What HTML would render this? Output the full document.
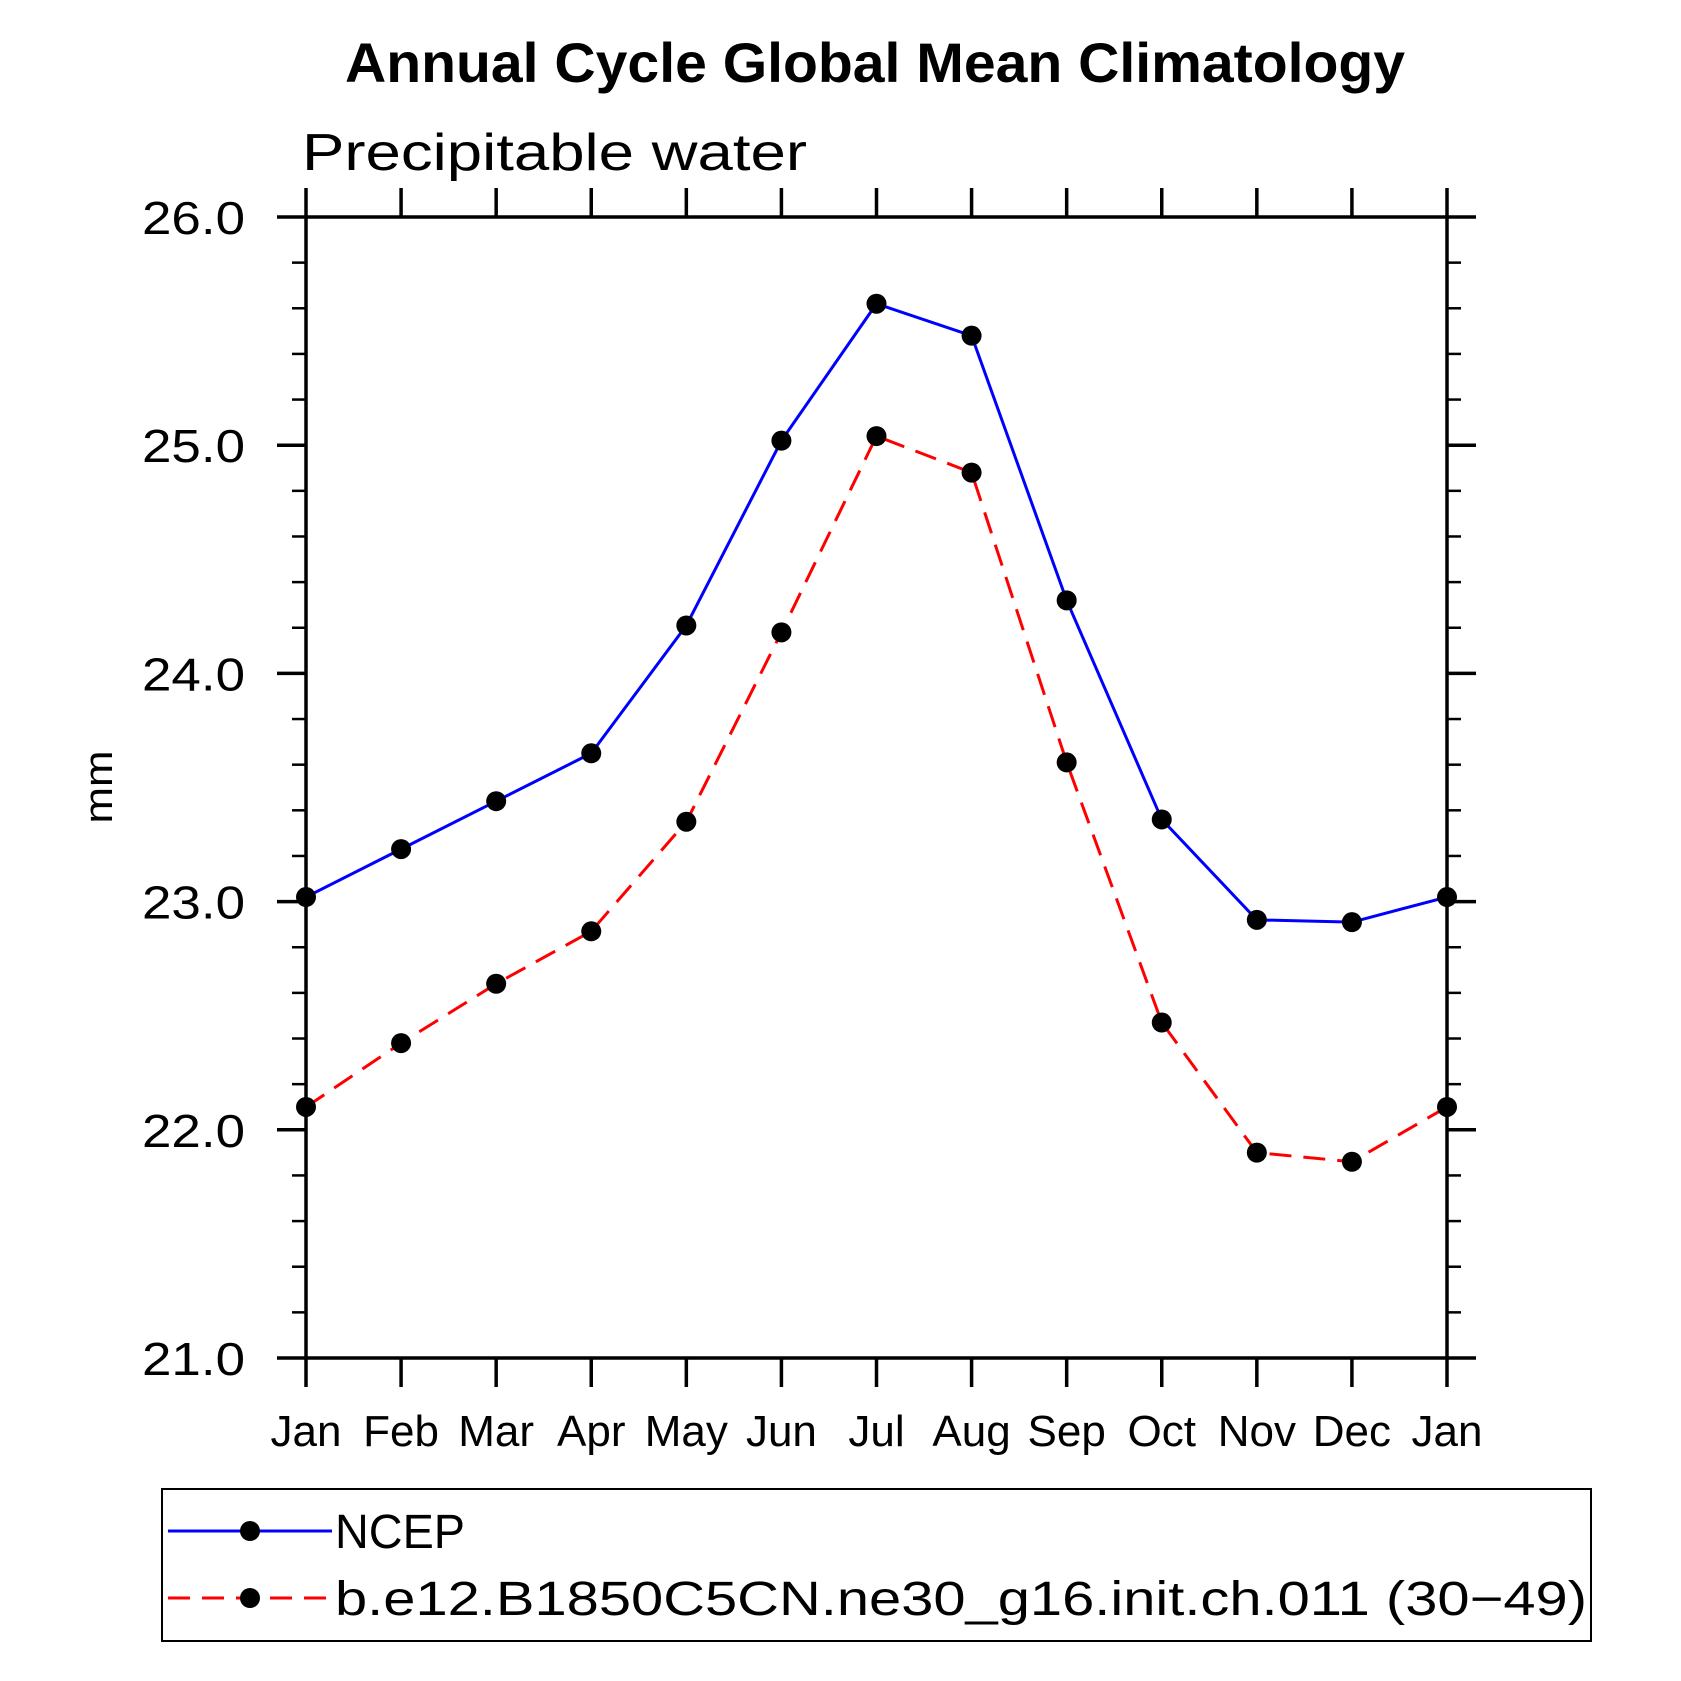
<!DOCTYPE html>
<html><head><meta charset="utf-8"><style>
html,body{margin:0;padding:0;background:#fff}
svg{display:block}
text{font-family:"Liberation Sans",sans-serif;fill:#000}
</style></head><body>
<svg id="chart" width="1681" height="1681" viewBox="0 0 1681 1681" xmlns="http://www.w3.org/2000/svg">
<text x="875" y="82" text-anchor="middle" font-size="56" font-weight="bold" textLength="1060" lengthAdjust="spacingAndGlyphs">Annual Cycle Global Mean Climatology</text>
<text x="302" y="170" font-size="52" textLength="505" lengthAdjust="spacingAndGlyphs">Precipitable water</text>
<text transform="translate(112,787) rotate(-90)" text-anchor="middle" font-size="40" textLength="73" lengthAdjust="spacingAndGlyphs">mm</text>
<g id="axes"></g>
<g id="series"></g>
<rect x="162" y="1489" width="1429" height="152" fill="none" stroke="#000" stroke-width="2"/>
<g id="legend"></g>
</svg>
<script>
const months = ["Jan","Feb","Mar","Apr","May","Jun","Jul","Aug","Sep","Oct","Nov","Dec","Jan"];
const ncepValues = [23.02,23.23,23.44,23.65,24.21,25.02,25.62,25.48,24.32,23.36,22.92,22.91,23.02];
const modelValues = [22.10,22.38,22.64,22.87,23.35,24.18,25.04,24.88,23.61,22.47,21.90,21.86,22.10];
const yTickLabels = ["21.0","22.0","23.0","24.0","25.0","26.0"];
const seriesNames = ["NCEP","b.e12.B1850C5CN.ne30_g16.init.ch.011 (30\u221249)"];

const NS="http://www.w3.org/2000/svg";
const X0=306,X1=1447,Y0=217,Y1=1358,YMIN=21,YMAX=26;
const xs=i=>X0+(X1-X0)*i/(months.length-1);
const ys=v=>Y1-(v-YMIN)/(YMAX-YMIN)*(Y1-Y0);
function mk(tag,attrs,parent){const e=document.createElementNS(NS,tag);for(const k in attrs)e.setAttribute(k,attrs[k]);parent.appendChild(e);return e;}
const axes=document.getElementById('axes');
const frame=mk('rect',{x:X0,y:Y0,width:X1-X0,height:Y1-Y0,fill:'none',stroke:'#000','stroke-width':3.5},axes);


months.forEach((m,i)=>{
  const x=xs(i);
  const t1=mk('line',{x1:x,x2:x,y1:Y1,y2:Y1+29,stroke:'#000','stroke-width':3.5},axes);
  
  
  const t2=mk('line',{x1:x,x2:x,y1:Y0,y2:Y0-29,stroke:'#000','stroke-width':3.5},axes);
  
  
  const lb=mk('text',{x:x,y:1446,'text-anchor':'middle','font-size':44},axes);
  lb.textContent=m;
  
  
});
for(let k=0;k<=25;k++){
  const v=YMIN+k*0.2;const y=ys(v);const major=k%5===0;const len=major?29:14;
  const a=mk('line',{x1:X0-len,x2:X0,y1:y,y2:y,stroke:'#000','stroke-width':major?3.5:2.5},axes);
  
  
  const b=mk('line',{x1:X1,x2:X1+len,y1:y,y2:y,stroke:'#000','stroke-width':major?3.5:2.5},axes);
  
  
}
yTickLabels.forEach(s=>{
  const lb=mk('text',{x:245,y:ys(parseFloat(s))+17,'text-anchor':'end','font-size':46,'textLength':103,'lengthAdjust':'spacingAndGlyphs'},axes);
  lb.textContent=s;
  
  
});
const series=document.getElementById('series');
const styles=[{c:'#0000ff',d:''},{c:'#ff0000',d:'22 12'}];
[ncepValues,modelValues].forEach((vals,si)=>{
  const pts=vals.map((v,i)=>xs(i)+','+ys(v)).join(' ');
  const pl=mk('polyline',{points:pts,fill:'none',stroke:styles[si].c,'stroke-width':3,'stroke-dasharray':styles[si].d},series);
  
  
  vals.forEach((v,i)=>{
    const c=mk('circle',{cx:xs(i),cy:ys(v),r:10,fill:'#000'},series);
    
    
  });
});
const legend=document.getElementById('legend');
[1531,1598].forEach((y,si)=>{
  const l=mk('line',{x1:168,x2:332,y1:y,y2:y,stroke:styles[si].c,'stroke-width':3,'stroke-dasharray':styles[si].d},legend);
  
  
  const c=mk('circle',{cx:250,cy:y,r:10,fill:'#000'},legend);
  
  
  const t=mk('text',{x:335,y:y+17,'font-size':48},legend);
  t.textContent=seriesNames[si];
  if(si===1){t.setAttribute('textLength','1252');t.setAttribute('lengthAdjust','spacingAndGlyphs');}
  else{t.setAttribute('textLength','130');t.setAttribute('lengthAdjust','spacingAndGlyphs');}
  
  
});
</script>
</body></html>
